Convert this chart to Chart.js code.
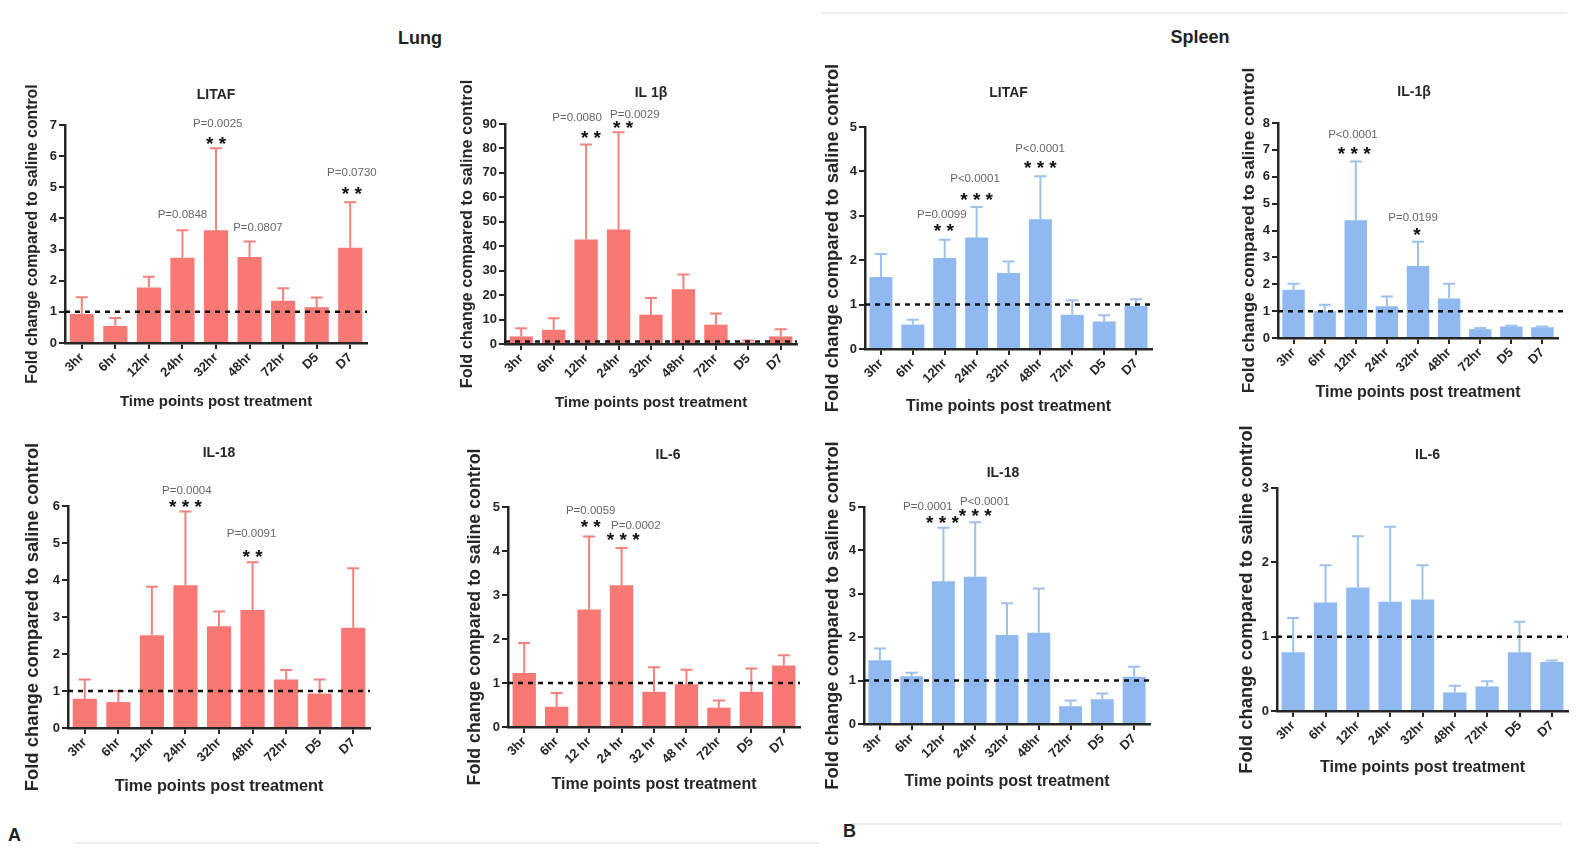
<!DOCTYPE html>
<html><head><meta charset="utf-8">
<script src="https://cdn.jsdelivr.net/npm/chart.js@4.4.1/dist/chart.umd.min.js"></script>
<style>
body{margin:0;background:#fff;width:1585px;height:848px;position:relative;overflow:hidden;font-family:"Liberation Sans",Arial,sans-serif;}
canvas{position:absolute;}
.lbl{position:absolute;font-weight:bold;color:#222;font-size:18px;line-height:18px;}
.ln{position:absolute;background:#ececec;}
</style></head><body>
<div class="ln" style="left:822px;top:12px;width:745px;height:2px;"></div>
<div class="ln" style="left:75px;top:842px;width:745px;height:2px;"></div>
<div class="ln" style="left:850px;top:823px;width:712px;height:2px;"></div>
<div class="lbl" style="left:420px;top:29px;transform:translateX(-50%);">Lung</div>
<div class="lbl" style="left:1200px;top:28px;transform:translateX(-50%);">Spleen</div>
<div class="lbl" style="left:8px;top:826px;">A</div>
<div class="lbl" style="left:843px;top:822px;">B</div>
<canvas id="c1"></canvas><canvas id="c2"></canvas><canvas id="c3"></canvas><canvas id="c4"></canvas>
<canvas id="c5"></canvas><canvas id="c6"></canvas><canvas id="c7"></canvas><canvas id="c8"></canvas>
<script>
// ---------- data ----------
const timeLabels   = ['3hr','6hr','12hr','24hr','32hr','48hr','72hr','D5','D7'];
const lungIL6Labels = ['3hr','6hr','12 hr','24 hr','32 hr','48 hr','72hr','D5','D7'];

const lungLitafMean = [0.93, 0.55, 1.78, 2.74, 3.62, 2.76, 1.36, 1.15, 3.06];
const lungLitafErr  = [1.47, 0.80, 2.13, 3.62, 6.25, 3.26, 1.76, 1.46, 4.52];
const lungIl1bMean  = [3.1, 5.8, 42.7, 46.8, 12.0, 22.4, 7.9, 0.7, 3.1];
const lungIl1bErr   = [6.4, 10.5, 81.6, 86.6, 18.8, 28.4, 12.5, 1.4, 6.0];
const lungIl18Mean  = [0.79, 0.70, 2.51, 3.86, 2.75, 3.19, 1.31, 0.93, 2.71];
const lungIl18Err   = [1.31, 1.00, 3.82, 5.85, 3.15, 4.48, 1.57, 1.31, 4.32];
const lungIl6Mean   = [1.23, 0.46, 2.67, 3.22, 0.80, 0.97, 0.44, 0.80, 1.40];
const lungIl6Err    = [1.91, 0.77, 4.33, 4.07, 1.36, 1.30, 0.60, 1.33, 1.63];

const spleenLitafMean = [1.62, 0.55, 2.05, 2.51, 1.71, 2.92, 0.77, 0.62, 0.97];
const spleenLitafErr  = [2.14, 0.66, 2.46, 3.20, 1.97, 3.89, 1.10, 0.76, 1.12];
const spleenIl1bMean  = [1.80, 1.00, 4.38, 1.18, 2.68, 1.47, 0.33, 0.43, 0.40];
const spleenIl1bErr   = [2.02, 1.24, 6.57, 1.54, 3.58, 2.02, 0.37, 0.46, 0.43];
const spleenIl18Mean  = [1.47, 1.10, 3.29, 3.39, 2.05, 2.10, 0.41, 0.57, 1.09];
const spleenIl18Err   = [1.74, 1.18, 4.52, 4.65, 2.78, 3.12, 0.54, 0.70, 1.32];
const spleenIl6Mean   = [0.79, 1.46, 1.66, 1.47, 1.50, 0.25, 0.33, 0.79, 0.66];
const spleenIl6Err    = [1.25, 1.96, 2.35, 2.48, 1.96, 0.34, 0.40, 1.20, 0.68];

// annotations: [category position, value level, text]
const lungLitafNotes = [[3.0,4.11,'P=0.0848'],[4.05,7.05,'P=0.0025'],[4.0,6.5,'* *'],[5.25,3.7,'P=0.0807'],[8.05,5.45,'P=0.0730'],[8.05,4.9,'* *']];
const lungIl1bNotes  = [[1.72,92.5,'P=0.0080'],[2.15,85.7,'* *'],[3.5,93.9,'P=0.0029'],[3.14,89.8,'* *']];
const lungIl18Notes  = [[3.04,6.41,'P=0.0004'],[3.0,6.06,'* * *'],[4.97,5.24,'P=0.0091'],[5.0,4.72,'* *']];
const lungIl6Notes   = [[2.05,4.92,'P=0.0059'],[2.05,4.62,'* *'],[3.44,4.58,'P=0.0002'],[3.05,4.32,'* * *']];
const spleenLitafNotes = [[1.91,3.02,'P=0.0099'],[1.97,2.72,'* *'],[2.95,3.84,'P<0.0001'],[3.0,3.43,'* * *'],[4.99,4.51,'P<0.0001'],[5.0,4.14,'* * *']];
const spleenIl1bNotes  = [[1.91,7.57,'P<0.0001'],[1.95,6.98,'* * *'],[3.84,4.47,'P=0.0199'],[3.97,3.94,'*']];
const spleenIl18Notes  = [[1.51,5.0,'P=0.0001'],[1.97,4.71,'* * *'],[3.3,5.13,'P<0.0001'],[3.0,4.86,'* * *']];
const spleenIl6Notes   = [];

// ---------- styling ----------
const RED = '#F87874', RED_ERR = '#F3827E';
const BLUE = '#8FB9F0', BLUE_ERR = '#9CC1EE';
const FONT = '"Liberation Sans", Arial, sans-serif';
const INK = '#262626';

const extras = {
  id: 'extras',
  afterDatasetsDraw(chart, args, o) {
    const ctx = chart.ctx, xs = chart.scales.x, ys = chart.scales.y, ca = chart.chartArea;
    const meta = chart.getDatasetMeta(0);
    ctx.save();
    ctx.strokeStyle = o.errColor; ctx.lineWidth = 2;
    o.err.forEach((e, i) => {
      const b = meta.data[i];
      const yt = ys.getPixelForValue(e), yb = ys.getPixelForValue(o.mean[i]);
      ctx.beginPath();
      ctx.moveTo(b.x, yb); ctx.lineTo(b.x, yt);
      ctx.moveTo(b.x - 6, yt); ctx.lineTo(b.x + 6, yt);
      ctx.stroke();
    });
    const y1 = ys.getPixelForValue(1);
    ctx.setLineDash([5, 5]); ctx.strokeStyle = '#111'; ctx.lineWidth = 2.5;
    ctx.beginPath(); ctx.moveTo(ca.left, y1); ctx.lineTo(ca.right + (o.dashExtra || 0), y1); ctx.stroke();
    ctx.setLineDash([]);
    ctx.textAlign = 'center';
    o.notes.forEach(n => {
      const x = xs.getPixelForValue(n[0]), y = ys.getPixelForValue(n[1]);
      if (n[2].startsWith('P')) {
        ctx.font = '11.5px ' + FONT; ctx.fillStyle = '#666'; ctx.textBaseline = 'middle';
        ctx.fillText(n[2], x, y);
      } else {
        ctx.font = 'bold 19px ' + FONT; ctx.fillStyle = '#111'; ctx.textBaseline = 'middle';
        ctx.fillText(n[2], x, y + 4);
      }
    });
    ctx.font = 'bold 14px ' + FONT; ctx.fillStyle = INK; ctx.textBaseline = 'middle';
    ctx.fillText(o.title, (ca.left + ca.right) / 2 + (o.titleDx || 0), ca.top - o.titleDy);
    ctx.restore();
  }
};

function makePanel(p) {
  const cv = document.getElementById(p.id);
  cv.width = p.w; cv.height = p.h;
  cv.style.left = p.left + 'px'; cv.style.top = p.top + 'px';
  new Chart(cv, {
    type: 'bar',
    data: { labels: p.labels, datasets: [{ data: p.mean, backgroundColor: p.color, borderWidth: 0, barPercentage: 0.72, categoryPercentage: 1 }] },
    options: {
      responsive: false, animation: false, devicePixelRatio: 1,
      layout: { padding: { left: 0, right: p.pr, top: p.pt, bottom: 0 } },
      plugins: {
        legend: { display: false }, tooltip: { enabled: false },
        extras: { err: p.err, mean: p.mean, errColor: p.errColor, notes: p.notes, title: p.title, titleDy: p.titleDy, titleDx: p.titleDx, dashExtra: p.dashExtra }
      },
      scales: {
        x: {
          offset: true,
          grid: { drawOnChartArea: false, offset: false, tickLength: 6, color: INK, lineWidth: 2 },
          border: { display: true, color: INK, width: 2.5 },
          ticks: { autoSkip: false, minRotation: 45, maxRotation: 45, padding: 1, color: INK, font: { family: FONT, size: 13, weight: 'bold' } },
          title: { display: true, text: 'Time points post treatment', color: INK, padding: { top: 4, bottom: 4 }, font: { family: FONT, size: p.xtSize, weight: 'bold' } },
          afterFit(s) { s.height = p.xh; }
        },
        y: {
          min: 0, max: p.max,
          grid: { drawOnChartArea: false, tickLength: 6, color: INK, lineWidth: 2 },
          border: { display: true, color: INK, width: 2.5 },
          ticks: { stepSize: p.step, padding: 2, color: INK, font: { family: FONT, size: 13, weight: 'bold' } },
          title: { display: true, text: 'Fold change compared to saline control', color: INK, padding: { top: 4, bottom: 4 }, font: { family: FONT, size: p.ytSize, weight: 'bold' } },
          afterFit(s) { s.width = p.yw; }
        }
      }
    },
    plugins: [extras]
  });
}

const panels = [
  { id:'c1', left:19,   top:80,  w:358, h:335, yw:46, xh:72, pt:45, pr:10, max:7,  step:1,  title:'LITAF', titleDy:30, labels:timeLabels,   mean:lungLitafMean, err:lungLitafErr, notes:lungLitafNotes, color:RED, errColor:RED_ERR, ytSize:15.8, xtSize:15 },
  { id:'c2', left:454,  top:70,  w:353, h:346, yw:51, xh:72, pt:54, pr:10, max:90, step:10, title:'IL 1β', titleDy:31, labels:timeLabels,   mean:lungIl1bMean,  err:lungIl1bErr,  notes:lungIl1bNotes,  color:RED, errColor:RED_ERR, ytSize:16.3, xtSize:15 },
  { id:'c3', left:818,  top:60,  w:344, h:360, yw:47, xh:71, pt:67, pr:10, max:5,  step:1,  title:'LITAF', titleDy:34, labels:timeLabels,   mean:spleenLitafMean, err:spleenLitafErr, notes:spleenLitafNotes, color:BLUE, errColor:BLUE_ERR, ytSize:18.4, xtSize:16 },
  { id:'c4', left:1235, top:60,  w:340, h:346, yw:43, xh:68, pt:63, pr:17, max:8,  step:1,  title:'IL-1β', titleDy:31, titleDx:-4, dashExtra:10, labels:timeLabels, mean:spleenIl1bMean, err:spleenIl1bErr, notes:spleenIl1bNotes, color:BLUE, errColor:BLUE_ERR, ytSize:17.2, xtSize:16 },
  { id:'c5', left:18,   top:438, w:362, h:362, yw:50, xh:72, pt:68, pr:10, max:6,  step:1,  title:'IL-18', titleDy:53, labels:timeLabels,   mean:lungIl18Mean,  err:lungIl18Err,  notes:lungIl18Notes,  color:RED, errColor:RED_ERR, ytSize:18.4, xtSize:16.3 },
  { id:'c6', left:460,  top:440, w:350, h:358, yw:48, xh:71, pt:67, pr:10, max:5,  step:1,  title:'IL-6',  titleDy:52, titleDx:14, labels:lungIL6Labels, mean:lungIl6Mean, err:lungIl6Err, notes:lungIl6Notes, color:RED, errColor:RED_ERR, ytSize:17.8, xtSize:16 },
  { id:'c7', left:818,  top:436, w:342, h:359, yw:46, xh:71, pt:71, pr:10, max:5,  step:1,  title:'IL-18', titleDy:34, titleDx:-4, labels:timeLabels, mean:spleenIl18Mean, err:spleenIl18Err, notes:spleenIl18Notes, color:BLUE, errColor:BLUE_ERR, ytSize:18.4, xtSize:16 },
  { id:'c8', left:1232, top:418, w:348, h:363, yw:45, xh:70, pt:70, pr:12, max:3,  step:1,  title:'IL-6',  titleDy:33, titleDx:5, labels:timeLabels, mean:spleenIl6Mean, err:spleenIl6Err, notes:spleenIl6Notes, color:BLUE, errColor:BLUE_ERR, ytSize:18.4, xtSize:16 }
];
panels.forEach(makePanel);
</script>
</body></html>
